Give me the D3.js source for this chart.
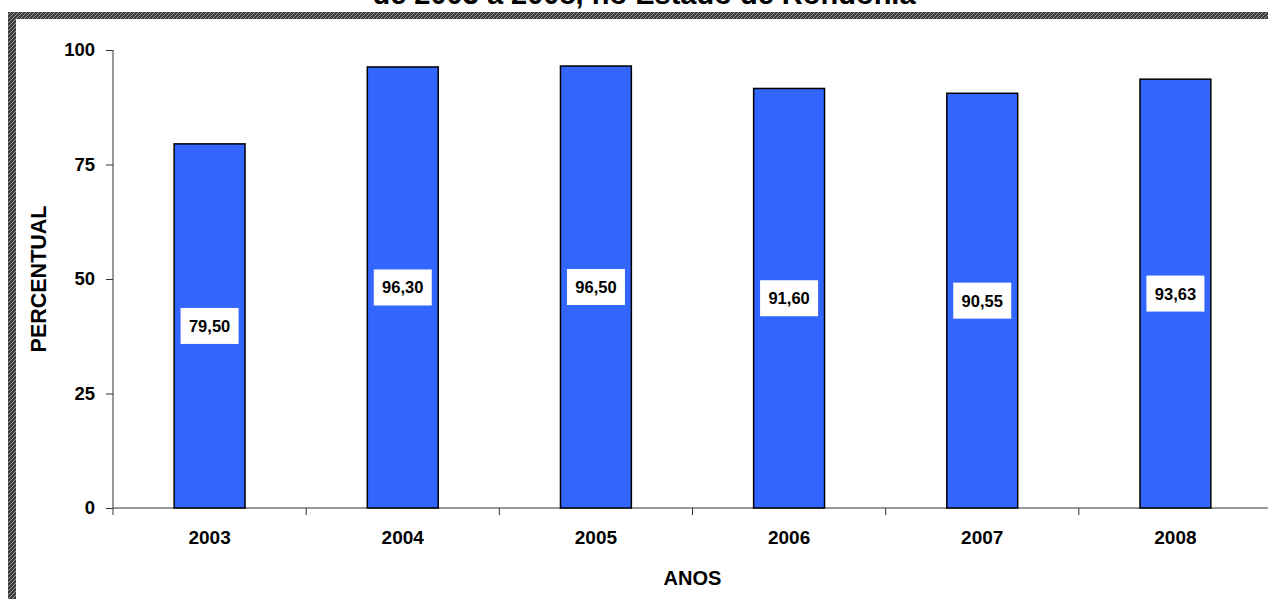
<!DOCTYPE html>
<html>
<head>
<meta charset="utf-8">
<script src="https://cdn.jsdelivr.net/npm/d3@7"></script>
<style>
  html, body { margin: 0; padding: 0; background: #fff; overflow: hidden; }
  svg { display: block; font-family: "Liberation Sans", Arial, sans-serif; }
</style>
</head>
<body>
<svg id="chart" width="1268" height="599"></svg>
<script>
// Percentual por ano, Rondônia 2003–2008
const anos = ["2003", "2004", "2005", "2006", "2007", "2008"];
const percentuais = [79.50, 96.30, 96.50, 91.60, 90.55, 93.63];
const yTicks = [0, 25, 50, 75, 100];
const titulo = "de 2003 a 2008, no Estado de Rondônia";

const svg = d3.select("#chart");
const W = 1268, H = 599;

// Textured frame pattern
const defs = svg.append("defs");
const pat = defs.append("pattern")
  .attr("id", "hatch").attr("width", 4).attr("height", 4)
  .attr("patternUnits", "userSpaceOnUse");
pat.append("rect").attr("width", 4).attr("height", 4).attr("fill", "#3c3c3c");
pat.append("rect").attr("x", 1).attr("y", 1).attr("width", 1).attr("height", 1).attr("fill", "#b0b0b0");
pat.append("rect").attr("x", 3).attr("y", 3).attr("width", 1).attr("height", 1).attr("fill", "#b0b0b0");
pat.append("rect").attr("x", 0).attr("y", 2).attr("width", 1).attr("height", 1).attr("fill", "#888");
pat.append("rect").attr("x", 2).attr("y", 0).attr("width", 1).attr("height", 1).attr("fill", "#888");

svg.append("rect").attr("x", 8).attr("y", 12).attr("width", W + 20).attr("height", 7).attr("fill", "url(#hatch)");
svg.append("rect").attr("x", 8).attr("y", 12).attr("width", 8).attr("height", H).attr("fill", "url(#hatch)");

// Title (upper part runs off the top of the page)
svg.append("text")
  .attr("x", 644).attr("y", 4)
  .attr("text-anchor", "middle")
  .attr("font-size", 29).attr("font-weight", "bold")
  .text(titulo);

const margin = { left: 113, right: 1272, top: 50, bottom: 508 };

const x = d3.scaleBand().domain(anos).range([margin.left, margin.right]).paddingInner(0.633).paddingOuter(0.3165);
const y = d3.scaleLinear().domain([0, 100]).range([margin.bottom, margin.top]);

const axisColor = "#333";

// Y axis
const yAxis = svg.append("g").attr("transform", `translate(${margin.left},0)`)
  .call(d3.axisLeft(y).tickValues(yTicks).tickSize(7).tickPadding(11).tickFormat(d3.format("d")));
yAxis.select(".domain").remove();
yAxis.append("line").attr("x1", 0).attr("x2", 0).attr("y1", margin.top).attr("y2", margin.bottom + 7)
  .attr("stroke", axisColor);
yAxis.selectAll(".tick line").attr("stroke", axisColor);
yAxis.selectAll(".tick text").attr("font-size", 18.5).attr("font-weight", "bold")
  .attr("font-family", "Liberation Sans, Arial, sans-serif").attr("fill", "#000");

// X axis: baseline plus tick marks between categories
const step = x.step();
const xg = svg.append("g");
xg.append("line").attr("x1", margin.left).attr("x2", margin.right).attr("y1", margin.bottom).attr("y2", margin.bottom)
  .attr("stroke", axisColor);
xg.selectAll("line.tk").data(anos.slice(1)).join("line").attr("class", "tk")
  .attr("x1", d => x(d) + x.bandwidth() / 2 - step / 2)
  .attr("x2", d => x(d) + x.bandwidth() / 2 - step / 2)
  .attr("y1", margin.bottom).attr("y2", margin.bottom + 7)
  .attr("stroke", axisColor);
xg.selectAll("text").data(anos).join("text")
  .attr("x", d => x(d) + x.bandwidth() / 2)
  .attr("y", 544)
  .attr("text-anchor", "middle")
  .attr("font-size", 19).attr("font-weight", "bold")
  .text(d => d);

// Bars
const data = anos.map((a, i) => ({ ano: a, v: percentuais[i] }));
svg.append("g").selectAll("rect").data(data).join("rect")
  .attr("x", d => x(d.ano)).attr("width", x.bandwidth())
  .attr("y", d => y(d.v)).attr("height", d => y(0) - y(d.v))
  .attr("fill", "#3366FF").attr("stroke", "#000").attr("stroke-width", 1.5);

// Value labels in white boxes at bar mid-height
const fmt = v => v.toFixed(2).replace(".", ",");
const lab = svg.append("g").selectAll("g").data(data).join("g")
  .attr("transform", d => `translate(${x(d.ano) + x.bandwidth() / 2},${y(d.v / 2)})`);
lab.append("rect").attr("x", -29).attr("y", -18).attr("width", 58).attr("height", 36).attr("fill", "#fff");
lab.append("text").attr("text-anchor", "middle").attr("dy", "0.36em")
  .attr("font-size", 16.5).attr("font-weight", "bold")
  .text(d => fmt(d.v));

// Axis titles
svg.append("text").attr("x", (margin.left + margin.right) / 2).attr("y", 585)
  .attr("text-anchor", "middle").attr("font-size", 20).attr("font-weight", "bold").text("ANOS");
svg.append("text").attr("transform", `translate(46,${(margin.top + margin.bottom) / 2}) rotate(-90)`)
  .attr("text-anchor", "middle").attr("font-size", 21.5).attr("font-weight", "bold").text("PERCENTUAL");
</script>
</body>
</html>
